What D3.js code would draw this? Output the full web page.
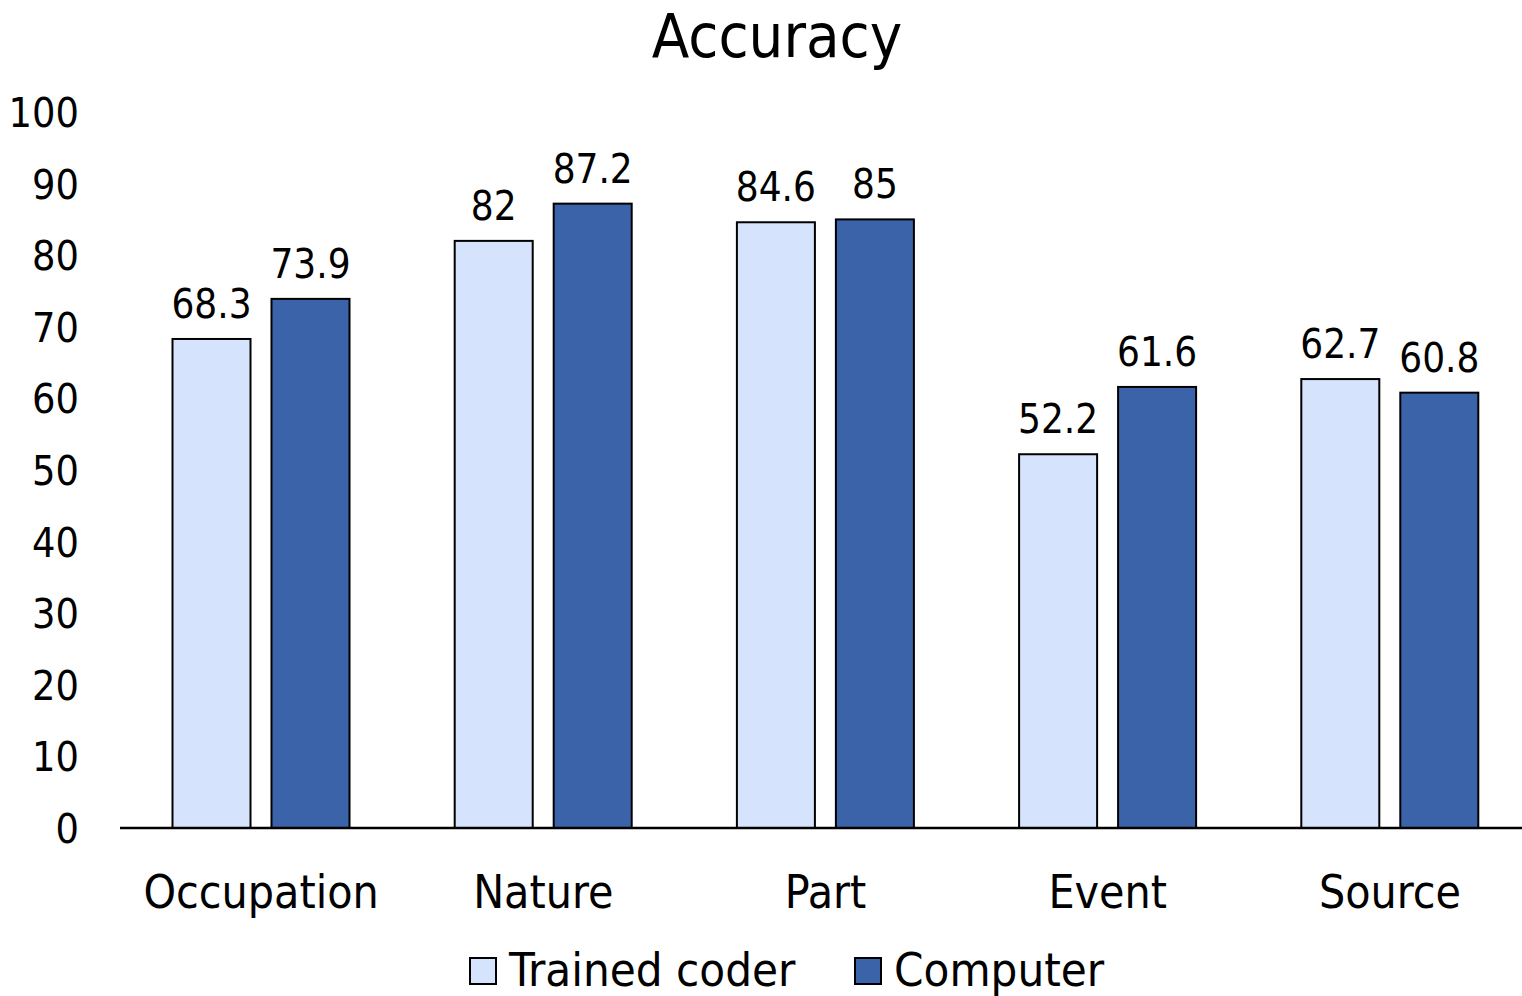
<!DOCTYPE html>
<html>
<head>
<meta charset="utf-8">
<script src="https://cdn.jsdelivr.net/npm/d3@7"></script>
<style>
  body { margin: 0; background: #fff; }
  text { font-family: "DejaVu Sans Condensed", "DejaVu Sans", sans-serif; font-stretch: condensed; fill: #000; }
</style>
</head>
<body>
<div id="chart"></div>
<script>
// values
const categories = ["Occupation", "Nature", "Part", "Event", "Source"];
const series = ["Trained coder", "Computer"];
const trainedCoder = [68.3, 82, 84.6, 52.2, 62.7];
const computer = [73.9, 87.2, 85, 61.6, 60.8];
const yTicks = [0, 10, 20, 30, 40, 50, 60, 70, 80, 90, 100];
const colors = ["#d6e3fc", "#3a63aa"];

const W = 1522, H = 996;

const svg = d3.select("#chart")
              .append("svg")
              .attr("width", W)
              .attr("height", H);

// build rows from the arrays
const rows = categories.map(function(c, i) {
    return {cat: c, vals: [trainedCoder[i], computer[i]]};
});

// plot area runs a little past the right edge like the original
const x0 = d3.scaleBand()
             .domain(categories)
             .range([120, 1531]);

const x1 = d3.scaleBand()
             .domain(series)
             .range([52.5, 229.5])
             .paddingInner(0.212);

const y = d3.scaleLinear()
            .domain([0, 100])
            .range([828, 112]);

// title
svg.append("text")
   .attr("x", 777)
   .attr("y", 57)
   .attr("text-anchor", "middle")
   .style("font-size", "61px")
   .text("Accuracy");

// y tick labels (no axis line)
svg.selectAll(".ytick")
   .data(yTicks)
   .enter()
   .append("text")
   .attr("class", "ytick")
   .attr("x", 79)
   .attr("y", function(d) { return y(d) + 15; })
   .attr("text-anchor", "end")
   .style("font-size", "41px")
   .text(function(d) { return d; });

// bars
const groups = svg.selectAll(".grp")
                  .data(rows)
                  .enter()
                  .append("g")
                  .attr("transform", function(d) { return `translate(${x0(d.cat)},0)`; });

groups.selectAll("rect")
      .data(function(d) { return d.vals.map(function(v, i) { return {s: series[i], v: v, i: i}; }); })
      .enter()
      .append("rect")
      .attr("x", function(d) { return x1(d.s); })
      .attr("y", function(d) { return y(d.v); })
      .attr("width", x1.bandwidth())
      .attr("height", function(d) { return y(0) - y(d.v); })
      .attr("fill", function(d) { return colors[d.i]; })
      .attr("stroke", "#000")
      .attr("stroke-width", 2);

// value labels
groups.selectAll(".lbl")
      .data(function(d) { return d.vals.map(function(v, i) { return {s: series[i], v: v}; }); })
      .enter()
      .append("text")
      .attr("class", "lbl")
      .attr("x", function(d) { return x1(d.s) + x1.bandwidth() / 2; })
      .attr("y", function(d) { return y(d.v) - 21; })
      .attr("text-anchor", "middle")
      .style("font-size", "40px")
      .text(function(d) { return d.v; });

// baseline
svg.append("line")
   .attr("x1", 120)
   .attr("x2", W)
   .attr("y1", y(0))
   .attr("y2", y(0))
   .attr("stroke", "#000")
   .attr("stroke-width", 2.5);

// category labels
svg.selectAll(".cat")
   .data(categories)
   .enter()
   .append("text")
   .attr("class", "cat")
   .attr("x", function(d) { return x0(d) + x0.bandwidth() / 2; })
   .attr("y", 908)
   .attr("text-anchor", "middle")
   .style("font-size", "46px")
   .text(function(d) { return d; });

// legend
const legX = [470, 855];
const leg = svg.selectAll(".leg")
               .data(series)
               .enter()
               .append("g")
               .attr("transform", function(d, i) { return `translate(${legX[i]},958)`; });

leg.append("rect")
   .attr("width", 26)
   .attr("height", 26)
   .attr("fill", function(d, i) { return colors[i]; })
   .attr("stroke", "#000")
   .attr("stroke-width", 2);

leg.append("text")
   .attr("x", 39)
   .attr("y", 28)
   .style("font-size", "47px")
   .text(function(d) { return d; });
</script>
</body>
</html>
